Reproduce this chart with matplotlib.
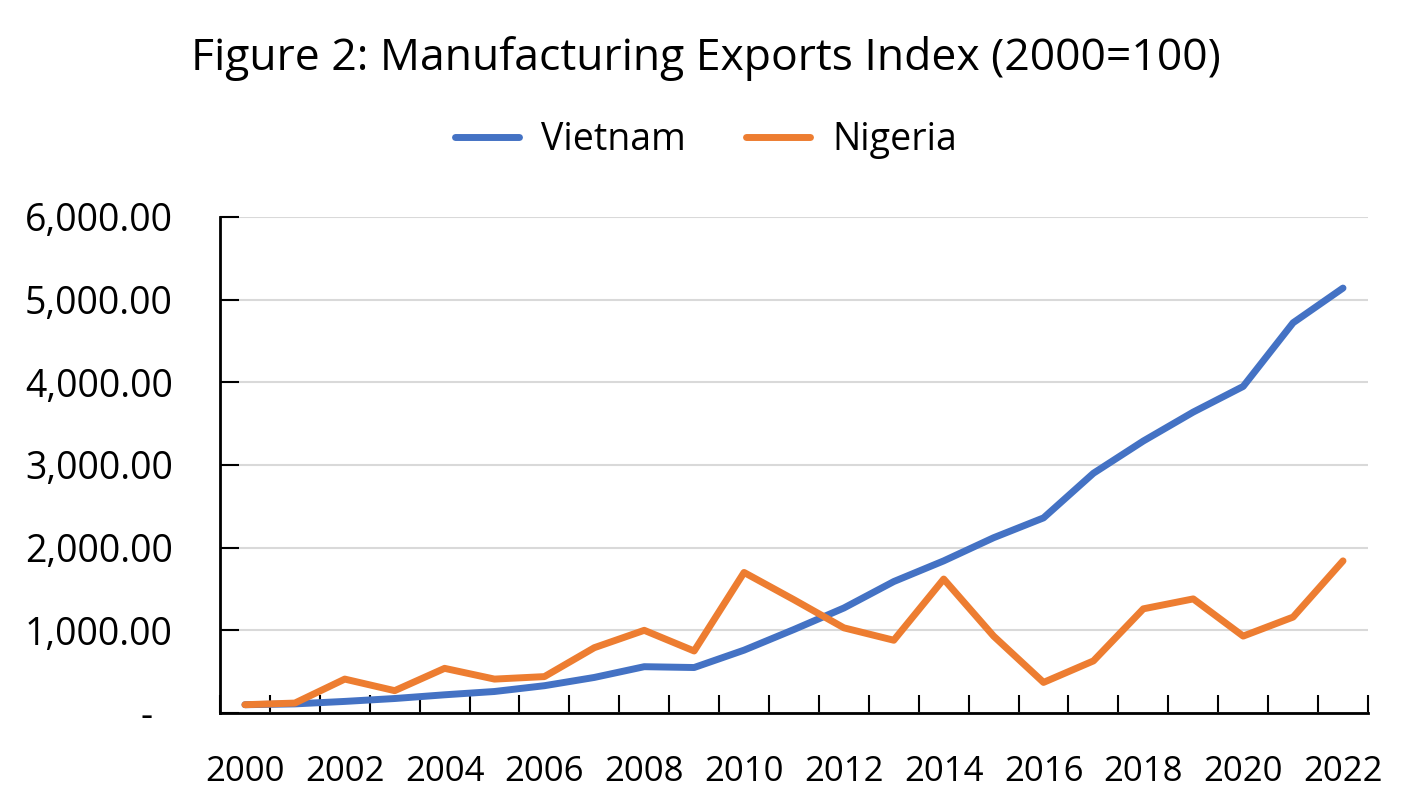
import numpy as np
import matplotlib
matplotlib.use("Agg")
import matplotlib.pyplot as plt
from matplotlib.ticker import FuncFormatter, FixedLocator

# ── data ──────────────────────────────────────────────────────────────────────
years = list(range(2000, 2023))
vietnam = [100, 110, 140, 175, 220, 260, 330, 430, 560, 550, 760, 1010,
           1270, 1590, 1840, 2120, 2360, 2900, 3290, 3640, 3950, 4720, 5140]
nigeria = [100, 120, 410, 270, 540, 410, 440, 790, 1000, 750, 1700, 1370,
           1030, 880, 1620, 930, 370, 630, 1260, 1380, 930, 1160, 1840]
title = "Figure 2: Manufacturing Exports Index (2000=100)"

BLUE = "#4472C4"
ORANGE = "#ED7D31"

plt.rcParams["font.family"] = ["Open Sans", "DejaVu Sans"]

fig = plt.figure(figsize=(14.12, 8.06), dpi=100)
ax = fig.add_axes([0.1558, 0.1154, 0.9688 - 0.1558, 0.7308 - 0.1154])

x = np.arange(len(years))
ax.plot(x, vietnam, color=BLUE, lw=5, label="Vietnam", solid_capstyle="round")
ax.plot(x, nigeria, color=ORANGE, lw=5, label="Nigeria", solid_capstyle="round")

ax.set_xlim(-0.5, len(years) - 0.5)
ax.set_ylim(0, 6000)

# y axis (accounting style: zero shown as a dash)
ax.set_yticks(np.arange(0, 6001, 1000))
ax.yaxis.set_major_formatter(FuncFormatter(
    lambda v, p: "-  " if v == 0 else f"{v:,.2f}"))
ax.tick_params(axis="y", direction="in", length=14, width=1.5, labelsize=27, pad=34)
ax.grid(axis="y", color="#D9D9D9", lw=1.5)
ax.set_axisbelow(True)

# x axis: tick marks between categories, labels every two years
ax.xaxis.set_major_locator(FixedLocator(np.arange(-0.5, len(years), 1.0)))
ax.xaxis.set_major_formatter(FuncFormatter(lambda v, p: ""))
ax.xaxis.set_minor_locator(FixedLocator(x[::2]))
ax.set_xticklabels([str(y) for y in years[::2]], minor=True)
ax.tick_params(axis="x", which="major", direction="in", length=13, width=1.5)
ax.tick_params(axis="x", which="minor", length=0, labelsize=25, pad=30)

for side in ["top", "right"]:
    ax.spines[side].set_visible(False)
for side in ["left", "bottom"]:
    ax.spines[side].set_linewidth(2)
    ax.spines[side].set_color("black")

fig.text(0.5, 0.928, title, ha="center", va="center", fontsize=32)
fig.legend(loc="center", bbox_to_anchor=(0.5, 0.826), ncol=2, frameon=False,
           fontsize=27, handlelength=1.7, columnspacing=1.6, handletextpad=0.6)

fig.savefig("out.png", dpi=100)
